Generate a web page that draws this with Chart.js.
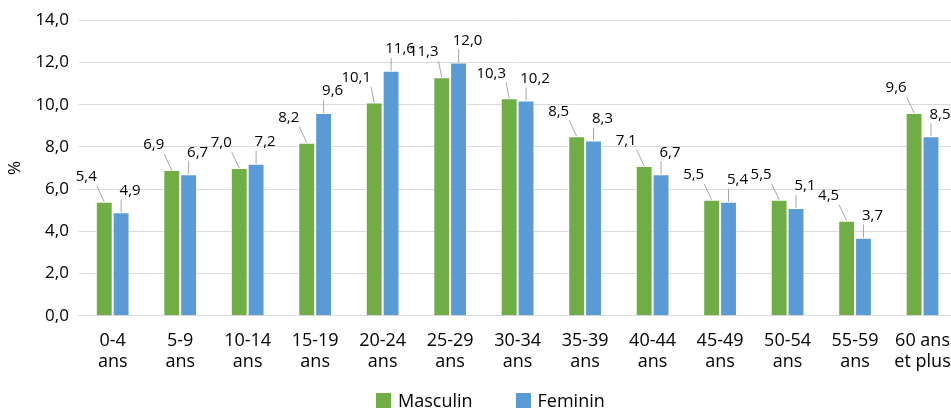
<!DOCTYPE html>
<html>
<head>
<meta charset="utf-8">
<script src="https://cdn.jsdelivr.net/npm/chart.js@4"></script>
<style>
    html, body { margin: 0; padding: 0; background: #fff; overflow: hidden; }
    #wrap { position: relative; width: 965px; height: 410px; }
    #legend {
        position: absolute; left: 376px; top: 390px;
        display: flex; align-items: center;
        font: 18px "Open Sans", sans-serif; color: #000; line-height: 20px;
    }
    #legend .item { display: flex; align-items: center; margin-right: 43px; }
    #legend .box { width: 15px; height: 15px; margin-right: 7px; }
</style>
</head>
<body>
<div id="wrap">
    <canvas id="ageChart"></canvas>
    <div id="legend"></div>
</div>
<script>
// Age groups (two-line labels as in the original)
const categories = [
    ['0-4', 'ans'], ['5-9', 'ans'], ['10-14', 'ans'], ['15-19', 'ans'],
    ['20-24', 'ans'], ['25-29', 'ans'], ['30-34', 'ans'], ['35-39', 'ans'],
    ['40-44', 'ans'], ['45-49', 'ans'], ['50-54', 'ans'], ['55-59', 'ans'],
    ['60 ans', 'et plus']
];
const masculin = [5.4, 6.9, 7.0, 8.2, 10.1, 11.3, 10.3, 8.5, 7.1, 5.5, 5.5, 4.5, 9.6];
const feminin = [4.9, 6.7, 7.2, 9.6, 11.6, 12.0, 10.2, 8.3, 6.7, 5.4, 5.1, 3.7, 8.5];
const seriesNames = ['Masculin', 'Feminin'];
const seriesColors = ['#70ad47', '#5b9bd5'];

const FONT = '"Open Sans", sans-serif';
const fmt = v => v.toFixed(1).replace('.', ',');

// Callout labels with a thin leader line, like the Excel original
const calloutLabels = {
    id: 'calloutLabels',
    afterDatasetsDraw(chart) {
        const ctx = chart.ctx;
        // offsets of the label centre from the bar top, per series
        const offsets = [{ dx: -18, dy: -25 }, { dx: 9, dy: -22 }];
        ctx.save();
        ctx.font = '15px ' + FONT;
        ctx.textAlign = 'center';
        ctx.textBaseline = 'middle';
        chart.data.datasets.forEach((ds, i) => {
            const meta = chart.getDatasetMeta(i);
            meta.data.forEach((bar, j) => {
                const text = fmt(ds.data[j]);
                const lx = bar.x + offsets[i].dx;
                const ly = bar.y + offsets[i].dy;
                const w = ctx.measureText(text).width;
                const sx = Math.min(Math.max(bar.x, lx - w / 2), lx + w / 2);
                const sy = ly + 9;
                ctx.strokeStyle = '#a6a6a6';
                ctx.lineWidth = 1;
                ctx.beginPath();
                ctx.moveTo(sx, sy);
                ctx.lineTo(bar.x, bar.y);
                ctx.stroke();
                ctx.fillStyle = '#000';
                ctx.fillText(text, lx, ly);
            });
        });
        ctx.restore();
    }
};

const chart = new Chart(document.getElementById('ageChart'), {
    type: 'bar',
    data: {
        labels: categories,
        datasets: seriesNames.map((name, i) => ({
            label: name,
            data: i === 0 ? masculin : feminin,
            backgroundColor: seriesColors[i],
            borderColor: 'rgba(255,255,255,0.7)',
            borderWidth: 1
        }))
    },
    options: {
        responsive: true,
        maintainAspectRatio: false,
        animation: false,
        datasets: {
            bar: { categoryPercentage: 0.5, barPercentage: 1.0 }
        },
        layout: { padding: { top: 18, right: 7, left: 0, bottom: 23 } },
        plugins: {
            legend: { display: false },
            tooltip: { enabled: false }
        },
        scales: {
            y: {
                min: 0,
                max: 14,
                ticks: {
                    stepSize: 2,
                    padding: 10,
                    color: '#000',
                    font: { family: FONT, size: 17 },
                    callback: (v) => fmt(v)
                },
                grid: { color: '#d9d9d9', drawTicks: false },
                border: { display: false },
                title: {
                    display: true,
                    text: '%',
                    color: '#000',
                    padding: { top: 5, bottom: 0 },
                    font: { family: FONT, size: 17 }
                }
            },
            x: {
                ticks: {
                    color: '#000',
                    padding: 14,
                    maxRotation: 0,
                    autoSkip: false,
                    font: { family: FONT, size: 18, lineHeight: 1.2 }
                },
                grid: { display: false, drawTicks: false },
                border: { color: '#d9d9d9' }
            }
        }
    },
    plugins: [calloutLabels]
});

// HTML legend below the chart
document.getElementById('legend').innerHTML = chart.data.datasets.map(ds =>
    `<div class="item"><span class="box" style="background:${ds.backgroundColor}"></span>${ds.label}</div>`
).join('');
</script>
</body>
</html>
